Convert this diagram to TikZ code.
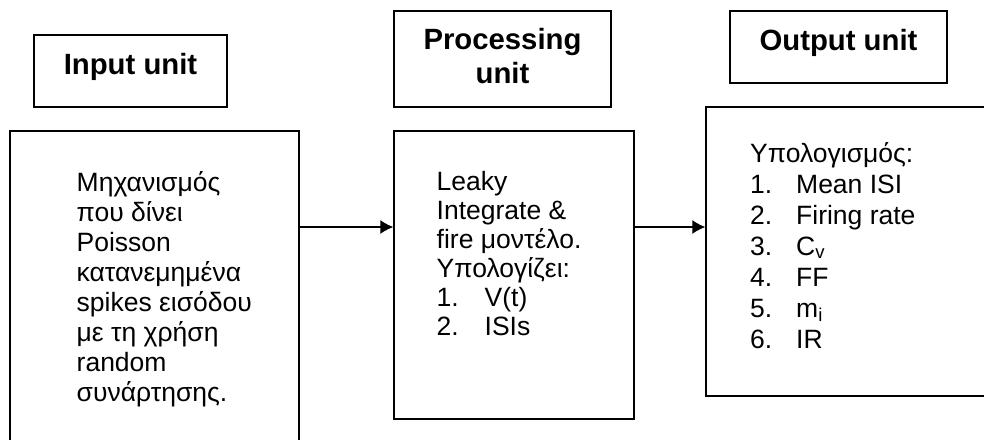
\documentclass[tikz,border=0pt]{standalone}
\usepackage{fontspec}
\setmainfont{Liberation Sans}
\usetikzlibrary{arrows.meta}
\tikzset{
  unitbox/.style={draw, rectangle, line width=1.3pt, inner sep=0pt},
  unittitle/.style={font=\fontsize{29.3}{34}\selectfont\bfseries, align=center, inner sep=0pt},
  unittext/.style={font=\fontsize{26.5}{30}\selectfont, align=left, inner sep=0pt},
  flow/.style={line width=1.3pt, -{Latex[length=13pt,width=14pt]}}
}
\newcommand{\listnum}[2][48pt]{\makebox[#1][l]{#2}}
\begin{document}
\begin{tikzpicture}[x=1pt,y=-1pt]
      \useasboundingbox (0,0) rectangle (984,439);
      \clip (0,0) rectangle (984,439);
      % header boxes (text placed by the baseline of its last line)
      \node[unitbox, minimum width=193pt, minimum height=72pt] (inhead) at (130.5,71) {};
      \node[unitbox, minimum width=217pt, minimum height=96pt] (prochead) at (502.5,59) {};
      \node[unitbox, minimum width=217pt, minimum height=72pt] (outhead) at (838.5,47) {};
      \node[unittitle, anchor=base] (intitle) at (130.5,74) {Input unit};
      \node[unittitle, anchor=base] (proctitle) at (502.5,83) {Processing\\unit};
      \node[unittitle, anchor=base] (outtitle) at (838.5,50) {Output unit};
      % unit boxes
      \node[unitbox, minimum width=289pt, minimum height=350pt] (inbox) at (154.5,306) {};
      \node[unitbox, minimum width=240pt, minimum height=288pt] (procbox) at (514,275) {};
      \node[unitbox, minimum width=304pt, minimum height=289pt] (outbox) at (858,251.5) {};
      \node[unittext, anchor=base west] (intext) at (76.5,401.7)
        {Μηχανισμός\\που δίνει\\Poisson\\κατανεμημένα\\spikes εισόδου\\με τη χρήση\\random\\συνάρτησης.};
      \node[unittext, font=\fontsize{26.5}{29}\selectfont, anchor=base west] (proctext) at (436.5,335)
        {Leaky\\Integrate \&\\fire μοντέλο.\\Υπολογίζει:\\\listnum{1.}V(t)\\\listnum{2.}ISIs};
      \node[unittext, font=\fontsize{26.5}{31}\selectfont, anchor=base west] (outtext) at (750,348)
        {Υπολογισμός:\\\listnum[46pt]{1.}Mean ISI\\\listnum[46pt]{2.}Firing rate\\\listnum[46pt]{3.}C\textsubscript{v}\\\listnum[46pt]{4.}FF\\\listnum[46pt]{5.}m\textsubscript{i}\\\listnum[46pt]{6.}IR};
      % connectors
      \coordinate (level) at (0,227);
      \begin{scope}[flow]
        \draw (inbox.east |- level) -- (procbox.west |- level);
        \draw (procbox.east |- level) -- (outbox.west |- level);
      \end{scope}
    \end{tikzpicture}
\end{document}
